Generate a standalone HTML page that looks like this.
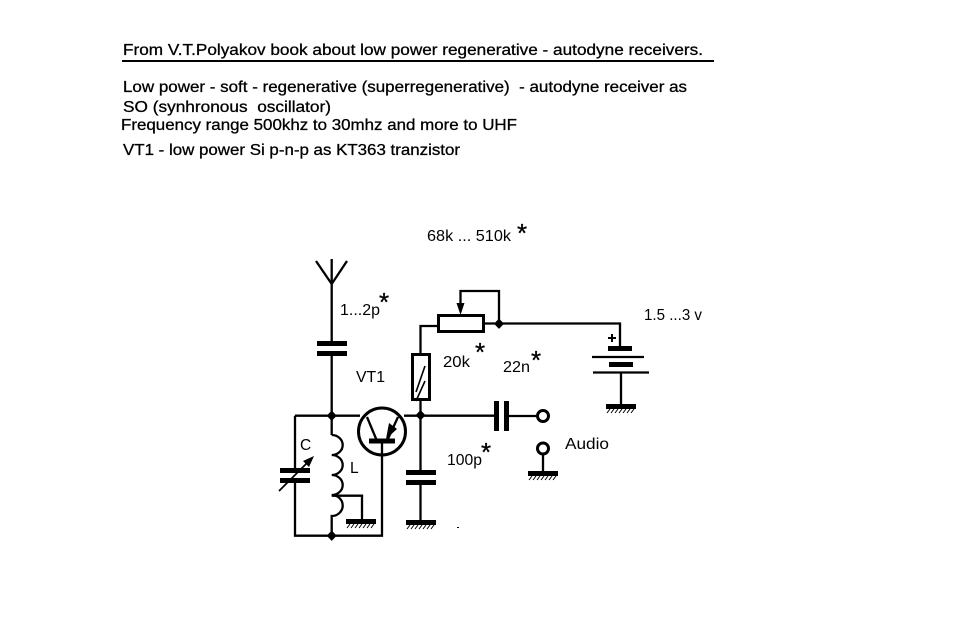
<!DOCTYPE html>
<html><head><meta charset="utf-8"><style>
html,body{margin:0;padding:0;background:#fff}
svg{display:block}
text{font-family:"Liberation Sans",sans-serif;fill:#000;white-space:pre}
.h{font-size:16px;stroke:#000;stroke-width:.3px}
.l{font-size:15.5px}
.s{font-size:26px;stroke:#000;stroke-width:.3px}
</style></head><body>
<svg width="957" height="617" viewBox="0 0 957 617" xmlns="http://www.w3.org/2000/svg">
<rect width="957" height="617" fill="#fff"/>
<text class="h" x="123" y="55" textLength="580" lengthAdjust="spacingAndGlyphs">From V.T.Polyakov book about low power regenerative - autodyne receivers.</text>
<rect x="122" y="60" width="592" height="2"/>
<text class="h" x="123" y="92" textLength="564" lengthAdjust="spacingAndGlyphs">Low power - soft - regenerative (superregenerative)  - autodyne receiver as</text>
<text class="h" x="123" y="112" textLength="208" lengthAdjust="spacingAndGlyphs">SO (synhronous  oscillator)</text>
<text class="h" x="121" y="130" textLength="396" lengthAdjust="spacingAndGlyphs">Frequency range 500khz to 30mhz and more to UHF</text>
<text class="h" x="123" y="155" textLength="337" lengthAdjust="spacingAndGlyphs">VT1 - low power Si p-n-p as KT363 tranzistor</text>

<g fill="none" stroke="#000" stroke-width="2.3">
<!-- antenna -->
<path d="M331.7 259V343M331.7 353V416M316 261L331.7 284L347 261"/>
<!-- LC loop -->
<path d="M295 415.7H360M295 415.7V470M295 480V535.7H382V443M404 415.7H494M331.7 415.7V435"/>
<path d="M331.7 435a11 10 0 0 1 0 20a11 10 0 0 1 0 20a11 10 0 0 1 0 20a11 10.5 0 0 1 0 21V536"/>
<path d="M331.7 495.7H362V522"/>
<path d="M279 491L310 460" stroke-width="1.8"/>
<!-- 100p -->
<path d="M420.5 400V472M420.5 482V522"/>
<!-- bias -->
<path d="M438 326H420.5V354"/>
<path d="M484 323.5H620V348M460.5 306V291H499V323"/>
<path d="M621 372V404"/>
<path d="M507 416H537"/>
<path d="M543 454V471"/>
<path d="M416 392L425 366M416 401L425 381" stroke-width="1.6"/>
<path d="M592 357H644M593 372.5H649"/>
</g>

<!-- transistor -->
<circle cx="382" cy="431.5" r="23.5" fill="none" stroke="#000" stroke-width="3"/>
<path d="M367 417L377 441M398 417L387 441" fill="none" stroke="#000" stroke-width="2.3"/>
<rect x="369" y="438.5" width="26" height="5"/>
<path d="M386 439L389 423L397 429Z"/>

<!-- capacitor plates -->
<rect x="317" y="341" width="30" height="5"/>
<rect x="317" y="351" width="30" height="5"/>
<rect x="280" y="468" width="30" height="5"/>
<rect x="280" y="478" width="30" height="5"/>
<path d="M314 456L303 461L309 467Z"/>
<rect x="406" y="470" width="30" height="5"/>
<rect x="406" y="480" width="30" height="5"/>
<rect x="494" y="401" width="5" height="30"/>
<rect x="504" y="401" width="5" height="30"/>

<!-- resistors -->
<rect x="438.5" y="315.5" width="45" height="16" fill="#fff" stroke="#000" stroke-width="3"/>
<rect x="412.5" y="354.5" width="17" height="45" fill="none" stroke="#000" stroke-width="3"/>
<path d="M456.5 303H464.5L460.5 315Z"/>

<!-- junctions -->
<path d="M331.7 410.5l5 5.2l-5 5.2l-5-5.2ZM331.7 530.5l5 5.2l-5 5.2l-5-5.2ZM420.5 410l5 5.2l-5 5.2l-5-5.2ZM499 318.5l5 5.2l-5 5.2l-5-5.2Z"/>

<!-- battery -->
<rect x="608" y="346" width="24" height="5"/>
<rect x="609" y="362" width="24" height="5"/>
<path d="M608 338h8M612 334v8" stroke="#000" stroke-width="2"/>

<!-- terminals -->
<circle cx="543" cy="416" r="5.5" fill="#fff" stroke="#000" stroke-width="3"/>
<circle cx="543" cy="448.5" r="5.5" fill="#fff" stroke="#000" stroke-width="3"/>

<!-- grounds -->
<g>
<rect x="346" y="519" width="30" height="5"/>
<path d="M347 528l3-4M351 528l3-4M355 528l3-4M359 528l3-4M363 528l3-4M367 528l3-4M371 528l3-4" stroke="#000"/>
<rect x="406" y="520" width="30" height="5"/>
<path d="M407 529l3-4M411 529l3-4M415 529l3-4M419 529l3-4M423 529l3-4M427 529l3-4M431 529l3-4" stroke="#000"/>
<rect x="606" y="404" width="30" height="5"/>
<path d="M607 413l3-4M611 413l3-4M615 413l3-4M619 413l3-4M623 413l3-4M627 413l3-4M631 413l3-4" stroke="#000"/>
<rect x="528" y="471" width="30" height="5"/>
<path d="M529 480l3-4M533 480l3-4M537 480l3-4M541 480l3-4M545 480l3-4M549 480l3-4M553 480l3-4" stroke="#000"/>
</g>
<rect x="457" y="527" width="2" height="1"/>
<rect x="561" y="323" width="2" height="1"/>

<!-- labels -->
<text class="l" x="427" y="241" textLength="84" lengthAdjust="spacingAndGlyphs">68k ... 510k</text>
<text class="s" x="517" y="242">*</text>
<text class="l" x="340" y="315" textLength="40" lengthAdjust="spacingAndGlyphs">1...2p</text>
<text class="s" x="379" y="311">*</text>
<text class="l" x="356" y="382" textLength="29" lengthAdjust="spacingAndGlyphs">VT1</text>
<text class="l" x="443" y="367" textLength="27" lengthAdjust="spacingAndGlyphs">20k</text>
<text class="s" x="475" y="361">*</text>
<text class="l" x="503" y="372" textLength="27" lengthAdjust="spacingAndGlyphs">22n</text>
<text class="s" x="531" y="369">*</text>
<text class="l" x="644" y="320" textLength="58" lengthAdjust="spacingAndGlyphs">1.5 ...3 v</text>
<text class="l" x="565" y="449" textLength="44" lengthAdjust="spacingAndGlyphs">Audio</text>
<text class="l" x="447" y="465" textLength="35" lengthAdjust="spacingAndGlyphs">100p</text>
<text class="s" x="481" y="461">*</text>
<text class="l" x="300" y="450">C</text>
<text class="l" x="350" y="473">L</text>
</svg>
</body></html>
